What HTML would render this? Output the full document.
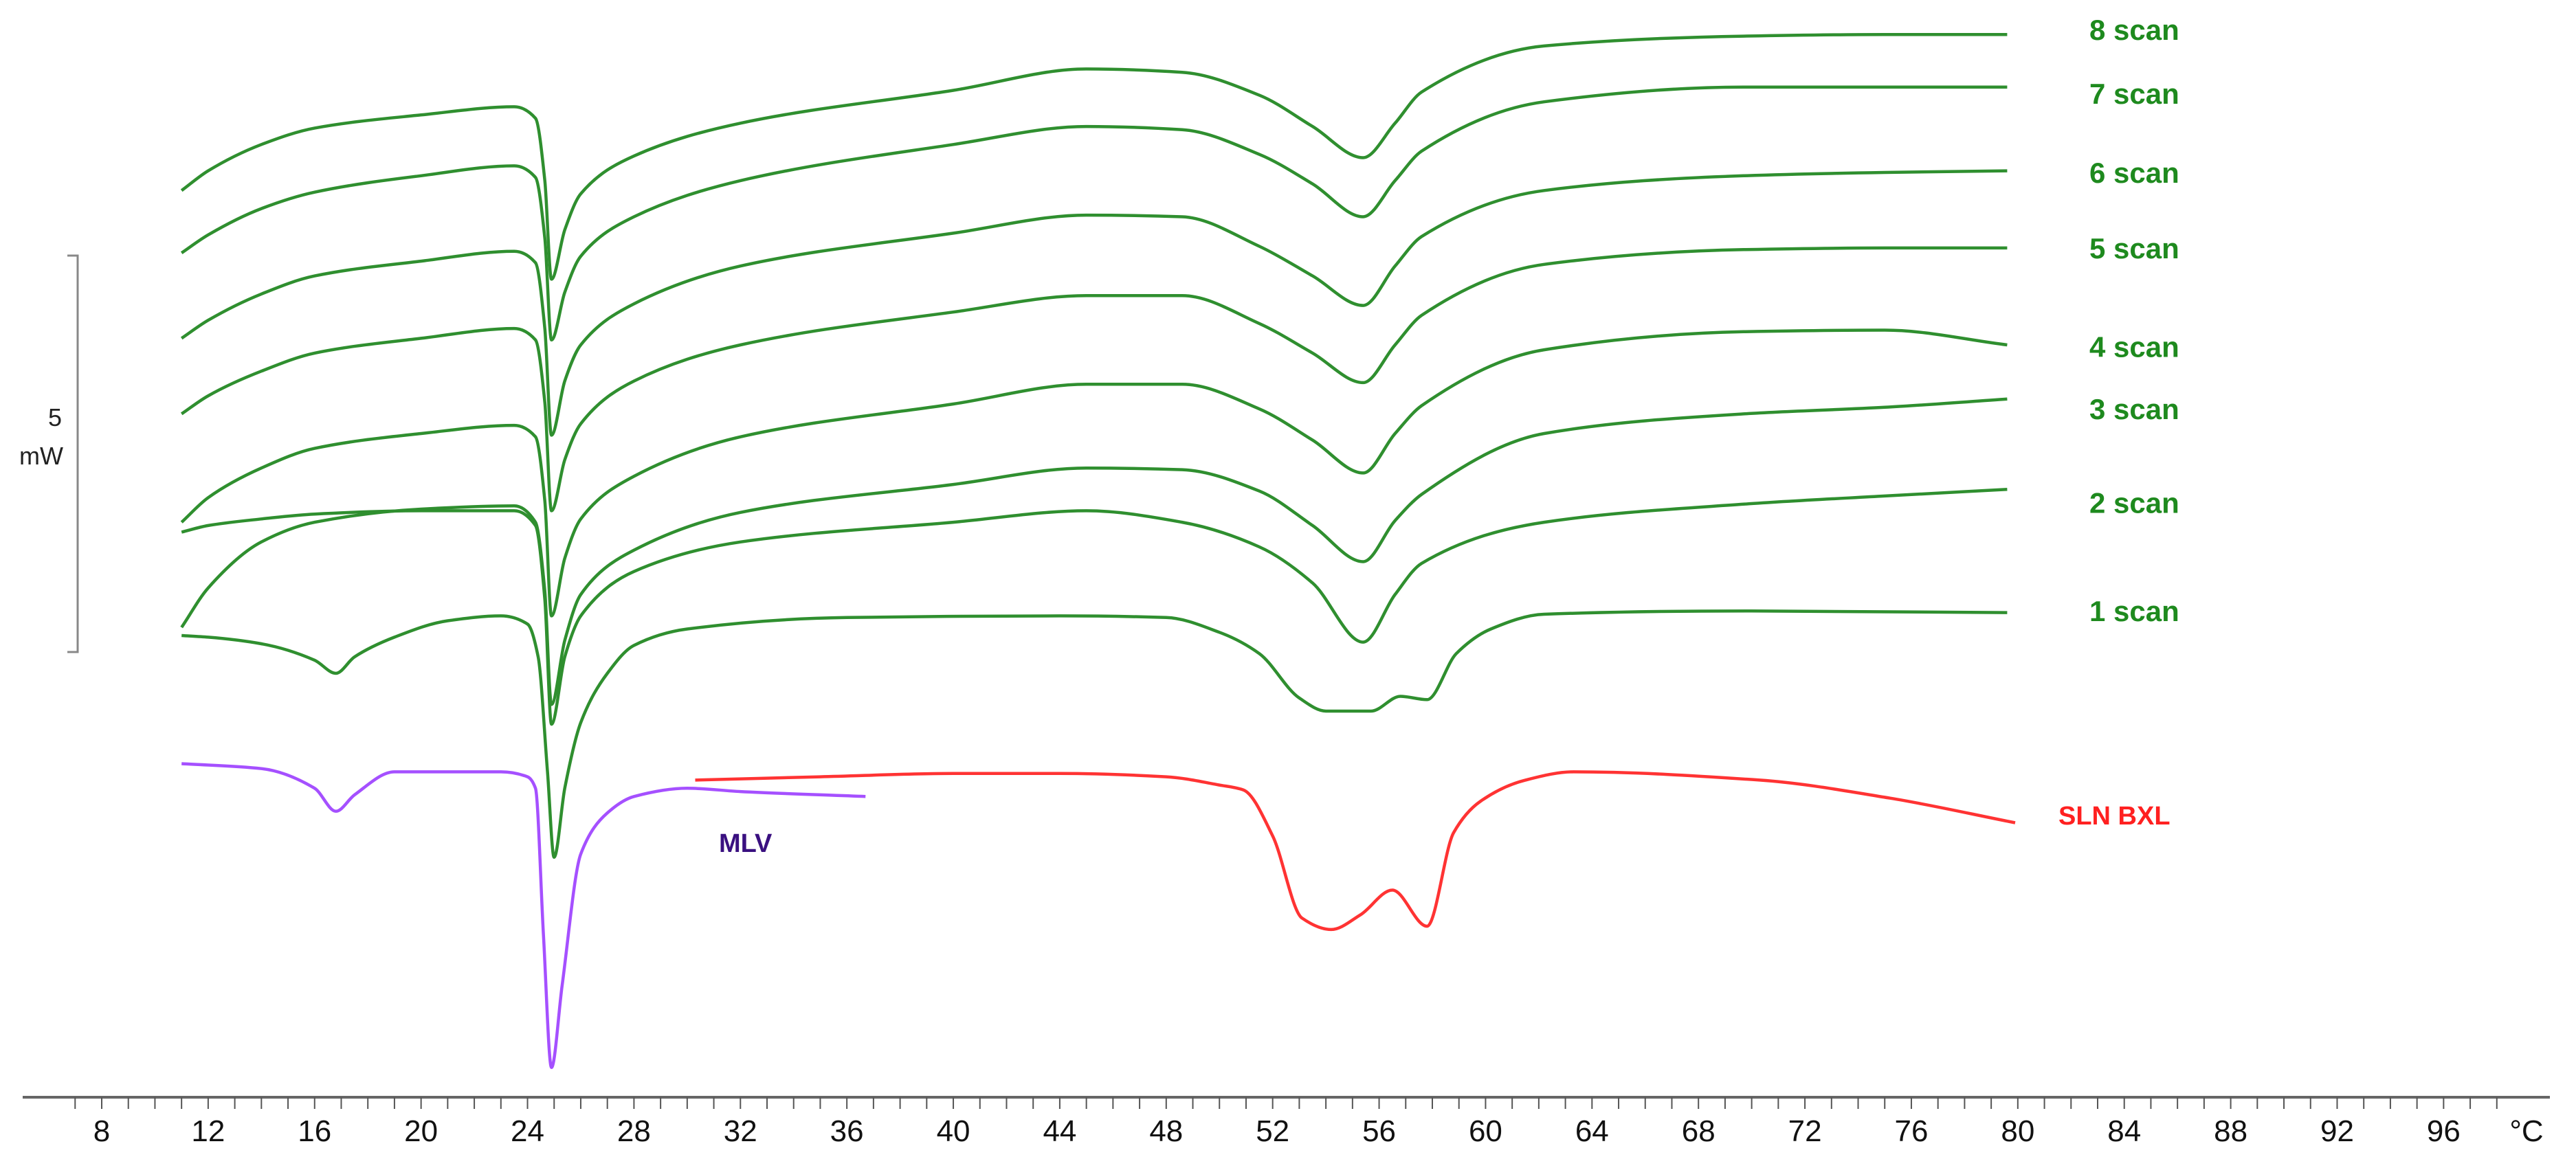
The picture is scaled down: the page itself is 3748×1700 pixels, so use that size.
<!DOCTYPE html>
<html><head><meta charset="utf-8"><style>
html,body{margin:0;padding:0;background:#fff;}
svg{display:block;}
</style></head><body>
<svg id="chart" width="3748" height="1700" viewBox="0 0 3748 1700" xmlns="http://www.w3.org/2000/svg">
<g id="axis"></g>
<g id="series"></g>
<g id="labels"></g>
<g>
<path d="M98,372 H113 V949 H98" fill="none" stroke="#888" stroke-width="3"/>
<text x="90" y="620" font-family="'Liberation Sans',sans-serif" font-size="36" fill="#222" text-anchor="end">5</text>
<text x="92" y="676" font-family="'Liberation Sans',sans-serif" font-size="36" fill="#222" text-anchor="end">mW</text>
</g>
</svg>
<script>
// ---- data (reading depth, arbitrary units; larger = lower on chart) ----
const xTicks = [8,12,16,20,24,28,32,36,40,44,48,52,56,60,64,68,72,76,80,84,88,92,96];
const scanTemps = [11,12,14,16,20,23.5,24.3,24.65,24.9,25.4,26,28,32,40,45,48.6,51.5,53.5,55.4,56.6,57.6,62.2,69.7,75,79.6];
const scan8 = [116,104,88,78,70,65,72,110,170,140,118,95,75,55,42,44,58,77,96,75,56,28,22,21,21];
const scan7 = [154,143,127,117,107,101,108,145,207,178,156,132,110,88,77,79,94,112,132,110,92,62,53,53,53];
const scan6 = [206,195,179,168,159,153,160,200,265,232,210,185,162,142,131,132,150,168,186,162,144,116,107,105,104];
const scan5 = [252,241,226,215,206,200,207,245,311,280,258,232,210,190,180,180,197,215,233,210,192,161,152,151,151];
const scan4 = [318,303,285,273,264,259,266,305,375,340,316,290,266,246,234,234,249,268,288,264,247,213,202,201,210];
const scan3 = [382,358,330,318,310,308,318,360,429,390,362,335,312,295,285,286,299,320,342,317,301,264,252,248,243];
const scan2 = [324,320,316,313,311,311,320,365,441,400,375,348,330,318,311,318,333,355,391,362,343,318,307,302,298];
const scan1Temps = [11,12,14,16,16.8,17.5,19,21,23,24,24.4,24.75,25,25.4,26,27,28,30,36,44,48,50,51.5,53,54,55.7,56.8,57.8,58.9,60.2,62.2,70,79.6];
const scan1 = [387,388,392,402,410,400,388,378,375,380,400,470,522,480,440,410,393,383,376,375,376,385,398,425,433,433,424,426,398,383,374,372,373];
const mlvTemps = [11,14,16,16.8,17.5,19,23,24,24.3,24.6,24.9,25.3,26,27,28,30,32,36.7];
const mlvVals = [465,468,480,494,484,470,470,473,480,570,650,600,520,495,485,480,482,485];
const slnTemps = [30.3,35,40,44,48,50,50.9,52,53.1,54.2,55.3,56.5,57.8,58.8,59.8,61.5,63.3,70.3,75.2,79.9];
const slnVals = [475,473,471,471,473,478,481,509,559,566,557,542,564,507,488,475,470,475,486,501];
const seriesNames = ['scan-8','scan-7','scan-6','scan-5','scan-4','scan-3','scan-2'];
const seriesVals = [scan8,scan7,scan6,scan5,scan4,scan3,scan2];
const labelTexts = ['8 scan','7 scan','6 scan','5 scan','4 scan','3 scan','2 scan','1 scan'];
const labelLevels = [18,57,105,151,211,249,306,372];

// ---- scales ----
const S = 3748/1568;
function xScale(t){ return 148 + (t-8)*38.72; }
function yScale(v){ return v*S; }

const NS='http://www.w3.org/2000/svg';
function mk(tag){ return document.createElementNS(NS,tag); }

// monotone cubic (Fritsch-Carlson) path
function smoothPath(ts, vs){
  const x = ts.map(xScale), y = vs.map(yScale), n = x.length;
  const d = [], m = new Array(n);
  for(let i=0;i<n-1;i++) d.push((y[i+1]-y[i])/(x[i+1]-x[i]));
  m[0]=d[0]; m[n-1]=d[n-2];
  for(let i=1;i<n-1;i++){
    if(d[i-1]*d[i]<=0) m[i]=0;
    else { const h0=x[i]-x[i-1], h1=x[i+1]-x[i];
      const w1=2*h1+h0, w2=h1+2*h0;
      m[i]=(w1+w2)/(w1/d[i-1]+w2/d[i]); }
  }
  let p='M'+x[0].toFixed(1)+','+y[0].toFixed(1);
  for(let i=0;i<n-1;i++){
    const h=(x[i+1]-x[i])/3;
    p+=' C'+(x[i]+h).toFixed(1)+','+(y[i]+m[i]*h).toFixed(1)+' '+(x[i+1]-h).toFixed(1)+','+(y[i+1]-m[i+1]*h).toFixed(1)+' '+x[i+1].toFixed(1)+','+y[i+1].toFixed(1);
  }
  return p;
}

// axis
const ax = document.getElementById('axis');
const line = mk('line');


line.setAttribute('x1',33); line.setAttribute('x2',3710);
line.setAttribute('y1',1597); line.setAttribute('y2',1597);
line.setAttribute('stroke','#666'); line.setAttribute('stroke-width','4');
ax.appendChild(line);
for(let t=7;t<=98;t++){
  const x=xScale(t);
  if(x<35||x>3708) continue;
  const tk=mk('line');
  
  
  tk.setAttribute('x1',x);tk.setAttribute('x2',x);
  tk.setAttribute('y1',1597);tk.setAttribute('y2',1614);
  tk.setAttribute('stroke','#555');tk.setAttribute('stroke-width','2');
  ax.appendChild(tk);
}
xTicks.forEach(t=>{
  const tx=mk('text');
  
  
  tx.setAttribute('x',xScale(t)); tx.setAttribute('y',1661);
  tx.setAttribute('text-anchor','middle');
  tx.setAttribute('font-family',"'Liberation Sans',sans-serif");
  tx.setAttribute('font-size','44'); tx.setAttribute('fill','#111');
  tx.textContent=t; ax.appendChild(tx);
});
const unit=mk('text');


unit.setAttribute('x',3676);unit.setAttribute('y',1661);
unit.setAttribute('text-anchor','middle');
unit.setAttribute('font-family',"'Liberation Sans',sans-serif");
unit.setAttribute('font-size','44');unit.setAttribute('fill','#111');
unit.textContent='°C'; ax.appendChild(unit);

// series
const sg=document.getElementById('series');
function addPath(ts,vs,color,name){
  const pth=mk('path');
  
  
  pth.setAttribute('d',smoothPath(ts,vs));
  pth.setAttribute('fill','none');pth.setAttribute('stroke',color);
  pth.setAttribute('stroke-width','4.5');pth.setAttribute('stroke-linejoin','round');
  sg.appendChild(pth);
}
const GREEN='#2f8f2f';
seriesVals.forEach((vs,i)=>addPath(scanTemps,vs,GREEN,seriesNames[i]));
addPath(scan1Temps,scan1,GREEN,'scan-1');
addPath(mlvTemps,mlvVals,'#a550ff','mlv-curve');
addPath(slnTemps,slnVals,'#ff3333','sln-bxl-curve');

// labels
const lg=document.getElementById('labels');
labelTexts.forEach((s,i)=>{
  const tx=mk('text');
  
  
  tx.setAttribute('x',3040);tx.setAttribute('y',yScale(labelLevels[i])+15);
  tx.setAttribute('font-family',"'Liberation Sans',sans-serif");
  tx.setAttribute('font-weight','bold');tx.setAttribute('font-size','42');
  tx.setAttribute('fill','#1e8a1e');
  tx.textContent=s; lg.appendChild(tx);
});
const sl=mk('text');


sl.setAttribute('x',2995);sl.setAttribute('y',1200);
sl.setAttribute('font-family',"'Liberation Sans',sans-serif");
sl.setAttribute('font-weight','bold');sl.setAttribute('font-size','38');
sl.setAttribute('fill','#ff2020');sl.textContent='SLN BXL';lg.appendChild(sl);
const ml=mk('text');


ml.setAttribute('x',1046);ml.setAttribute('y',1240);
ml.setAttribute('font-family',"'Liberation Sans',sans-serif");
ml.setAttribute('font-weight','bold');ml.setAttribute('font-size','38');
ml.setAttribute('fill','#3a1080');ml.textContent='MLV';lg.appendChild(ml);
</script>
</body></html>
